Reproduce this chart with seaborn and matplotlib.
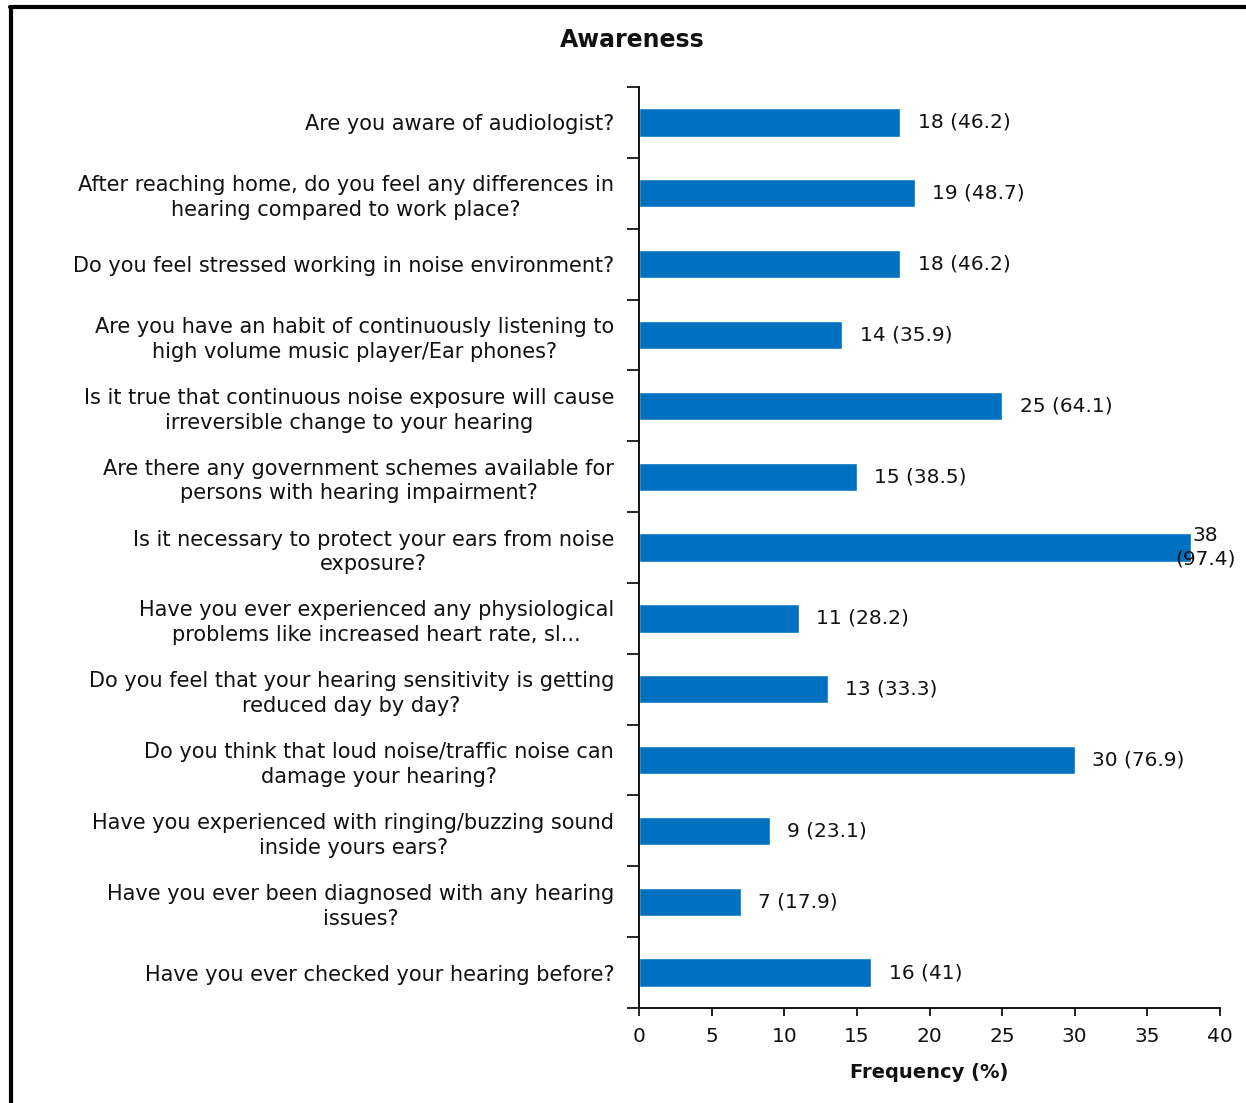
import matplotlib.pyplot as plt
import matplotlib.lines as mlines
import seaborn as sns
import pandas as pd
import numpy as np

questions = [
    "Are you aware of audiologist?",
    "After reaching home, do you feel any differences in\nhearing compared to work place?",
    "Do you feel stressed working in noise environment?",
    "Are you have an habit of continuously listening to\nhigh volume music player/Ear phones?",
    "Is it true that continuous noise exposure will cause\nirreversible change to your hearing",
    "Are there any government schemes available for\npersons with hearing impairment?",
    "Is it necessary to protect your ears from noise\nexposure?",
    "Have you ever experienced any physiological\nproblems like increased heart rate, sl...",
    "Do you feel that your hearing sensitivity is getting\nreduced day by day?",
    "Do you think that loud noise/traffic noise can\ndamage your hearing?",
    "Have you experienced with ringing/buzzing sound\ninside yours ears?",
    "Have you ever been diagnosed with any hearing\nissues?",
    "Have you ever checked your hearing before?",
]
counts = [18, 19, 18, 14, 25, 15, 38, 11, 13, 30, 9, 7, 16]
percents = ["46.2", "48.7", "46.2", "35.9", "64.1", "38.5", "97.4",
            "28.2", "33.3", "76.9", "23.1", "17.9", "41"]

df = pd.DataFrame({"question": questions, "count": counts})

sns.set_style("white")
plt.rcParams['font.family'] = ['DejaVu Sans']
plt.rcParams['text.color'] = '#111111'
plt.rcParams['axes.labelcolor'] = '#111111'
plt.rcParams['xtick.color'] = '#111111'
plt.rcParams['ytick.color'] = '#111111'

fig = plt.figure(figsize=(12.46, 11.03), dpi=100)
ax = fig.add_axes([0.513, 0.0861, 0.466, 0.835])

sns.barplot(data=df, x="count", y="question", color="#0070C0",
            saturation=1, width=0.4, ax=ax)

ax.set_xlim(0, 40)
ax.set_ylim(len(questions) - 0.5, -0.5)
ax.set_xticks(range(0, 41, 5))
ax.set_ylabel("")
ax.set_xlabel("Frequency (%)", fontsize=14, fontweight="bold", labelpad=12)
ax.set_title("Awareness", fontsize=17, fontweight="bold", pad=29)
ax.title.set_position((-0.0118, 1.0))

# category separators on the y axis
ax.set_yticks(np.arange(-0.5, len(questions), 1), minor=True)
ax.tick_params(axis="y", which="major", left=False, length=0, pad=18,
               labelsize=15)
ax.tick_params(axis="y", which="minor", left=True, length=9, width=1.2,
               direction="out", color="black")
ax.tick_params(axis="x", bottom=True, length=6, width=1.2, direction="out",
               labelsize=14.5, pad=8, color="black")
for lab in ax.get_yticklabels():
    lab.set_multialignment("center")
    lab.set_linespacing(1.3)

for s in ["top", "right"]:
    ax.spines[s].set_visible(False)
for s in ["left", "bottom"]:
    ax.spines[s].set_color("black")
    ax.spines[s].set_linewidth(1.3)

# value labels
for i, (c, p) in enumerate(zip(counts, percents)):
    if c >= 38:
        ax.text(39, i, f"{c}\n({p})", va="center", ha="center",
                fontsize=14.5, linespacing=1.3)
    else:
        ax.text(c + 1.2, i, f"{c} ({p})", va="center", ha="left",
                fontsize=14.5)

# frame around the picture
fig.add_artist(mlines.Line2D([0.008, 1.0], [0.9935, 0.9935], color="black",
                             lw=3, transform=fig.transFigure))
fig.add_artist(mlines.Line2D([0.009, 0.009], [0.0, 0.9935], color="black",
                             lw=3, transform=fig.transFigure))

fig.savefig("out.png", dpi=100)
